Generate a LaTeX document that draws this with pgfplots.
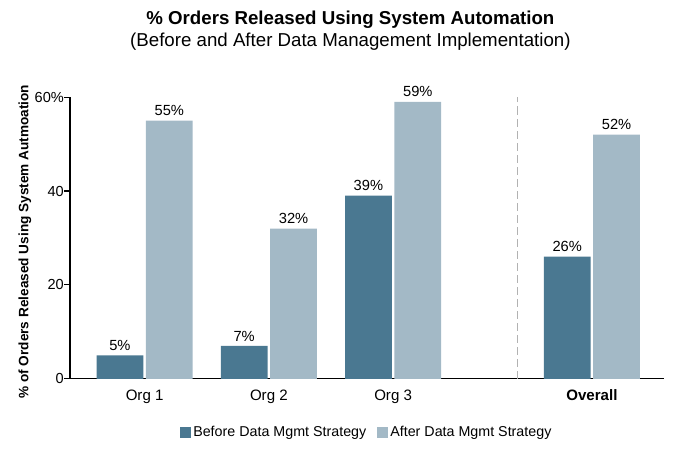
\documentclass[border=0pt]{standalone}
\usepackage{pgfplots}
\pgfplotsset{compat=1.18}
\usepackage{fontspec}
\setmainfont{Liberation Sans}

\definecolor{before}{HTML}{4A7891}
\definecolor{after}{HTML}{A3B9C6}

\pgfplotstableread{
x  before after
0  5      55
1  7      32
2  39     59
3.6 26    52
}\orgdata

\begin{document}
\begin{tikzpicture}
\begin{axis}[
    width=445pt, height=211pt,
    scale only axis,
    xmin=-0.6, xmax=4.18,
    ymin=0, ymax=60,
    axis x line*=bottom,
    axis y line*=left,
    axis line style={line width=1.1pt},
    xtick={0,1,2,3.6},
    xticklabels={Org 1, Org 2, Org 3, \textbf{Overall}},
    x tick style={draw=none},
    ytick={0,20,40,60},
    yticklabels={0,20,40,60\%},
    y tick style={black, line width=0.8pt},
    yticklabel style={inner xsep=0pt, font=\fontsize{10.9}{13}\selectfont},
    xticklabel style={font=\fontsize{11.3}{13}\selectfont},
    tick align=outside,
    major tick length=4.5pt,
    /pgf/number format/assume math mode=true,
    ylabel={\textbf{\% of Orders Released Using System Autmoation}},
    ylabel style={at={(rel axis cs:-0.076,0.487)}, anchor=center, font=\fontsize{10.2}{12}\selectfont},
    ybar=2pt,
    bar width=35pt,
    nodes near coords={\pgfmathprintnumber{\pgfplotspointmeta}\%},
    nodes near coords style={font=\fontsize{11}{13}\selectfont, black},
    legend style={at={(rel axis cs:0.5,-0.192)}, anchor=center, draw=none,
      font=\fontsize{10.7}{12}\selectfont, legend columns=-1,
      /tikz/every even column/.append style={column sep=6pt}},
    legend image code/.code={\fill[#1] (0pt,-4pt) rectangle (8pt,4pt);},
    clip=false,
]
\addplot[fill=before, draw=none] table[x=x, y=before] {\orgdata};
\addlegendentry{Before Data Mgmt Strategy}
\addplot[fill=after, draw=none] table[x=x, y=after] {\orgdata};
\addlegendentry{After Data Mgmt Strategy}
\draw[gray!60, dash pattern=on 6pt off 3pt, line width=0.8pt] (axis cs:3,0) -- (axis cs:3,60);
\node[font=\bfseries\fontsize{14}{16}\selectfont] at (rel axis cs:0.472,1.275) {\% Orders Released Using System Automation};
\node[font=\fontsize{14}{16}\selectfont] at (rel axis cs:0.472,1.197) {(Before and After Data Management Implementation)};
% fix the page margins to the reference proportions
\path (rel axis cs:0,1) ++(-52.5pt,72.8pt) coordinate (tl);
\path (rel axis cs:1,0) ++(27pt,-54.8pt) coordinate (br);
\path (tl) rectangle (br);
\end{axis}
\end{tikzpicture}
\end{document}
